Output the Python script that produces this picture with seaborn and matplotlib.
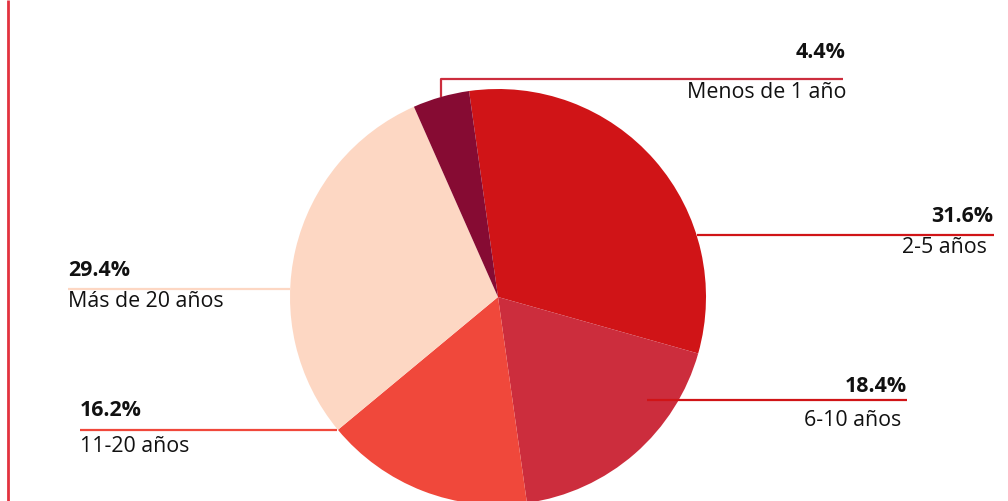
import matplotlib
matplotlib.use("Agg")
import matplotlib.pyplot as plt
import seaborn as sns

# Antigüedad - share per group (clockwise from top)
categories = ['2-5 años', '6-10 años', '11-20 años', 'Más de 20 años', 'Menos de 1 año']
shares = [31.6, 18.4, 16.2, 29.4, 4.4]
pct_labels = ['31.6%', '18.4%', '16.2%', '29.4%', '4.4%']

slice_colors = ['#D01417', '#CC2D3D', '#F0483B', '#FDD7C3', '#860B33']
line_colors = ['#D01417', '#D01417', '#F0483B', '#FDD7C3', '#CC2D3D']

# label layout in pixel coords:
# (line xs, line ys, pct x, name x, pct baseline, name baseline, align)
label_layout = [
    ([697, 994], [235, 235], 993, 987, 222, 253, 'right'),
    ([647, 907], [400, 400], 907, 901, 392, 426, 'right'),
    ([80, 337], [430, 430], 80, 80, 416, 452, 'left'),
    ([68, 290], [289, 289], 68, 68, 276, 307, 'left'),
    ([441, 441, 843], [97, 79, 79], 846, 846, 58, 98, 'right'),
]

sns.set_theme(style='white')
plt.rcParams['font.family'] = ['Open Sans', 'DejaVu Sans']
text_color = '#111111'

W, H = 1008, 501
fig = plt.figure(figsize=(W / 100, H / 100), dpi=100)
ax = fig.add_axes([0, 0, 1, 1])

palette = sns.color_palette(slice_colors)
ax.pie(shares, colors=palette, center=(498, 297), radius=208,
       startangle=262, counterclock=True,
       wedgeprops={'linewidth': 0, 'antialiased': True})

ax.set_xlim(0, W)
ax.set_ylim(H, 0)
ax.set_aspect('equal')
ax.axis('off')

# red rule on the left
ax.plot([8, 8], [0, H], color='#E2323F', lw=2, solid_capstyle='butt', zorder=5)

for pct, name, lc, (lx, ly, px, nx, yp, yn, ha) in zip(pct_labels, categories, line_colors, label_layout):
    ax.plot(lx, ly, color=lc, lw=1.6, solid_capstyle='butt', zorder=4)
    ax.text(px, yp, pct, ha=ha, va='baseline', fontsize=15.4, fontweight='bold', color=text_color)
    ax.text(nx, yn, name, ha=ha, va='baseline', fontsize=15.4, color=text_color)

fig.savefig('out.png', dpi=100)
